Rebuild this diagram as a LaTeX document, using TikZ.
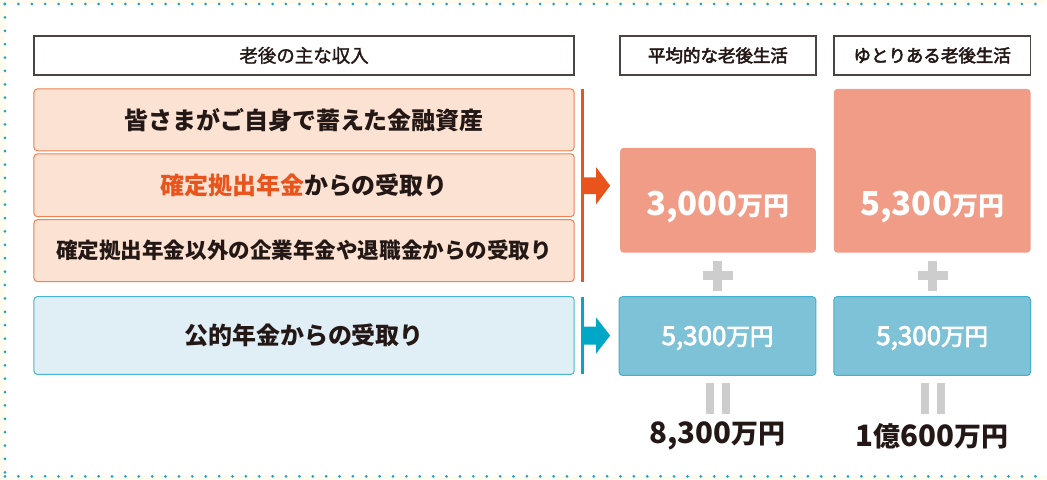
\documentclass[tikz,border=0pt]{standalone}
\usepackage{fontspec}
\usetikzlibrary{calc}
\setmainfont{Noto Sans CJK JP}
\newcommand\heavier[2]{\special{pdf:literal direct #1 w 2 Tr}#2\special{pdf:literal direct 0 Tr}}
\definecolor{cream}{HTML}{FFFBEE}
\definecolor{teal}{HTML}{1AA3C6}
\definecolor{txt}{HTML}{231815}
\definecolor{headdraw}{HTML}{4A4443}
\definecolor{ofill}{HTML}{FCE2D2}
\definecolor{odraw}{HTML}{EF8152}
\definecolor{oline}{HTML}{E8541C}
\definecolor{salmon}{HTML}{F19C86}
\definecolor{bbox}{HTML}{7DC2D7}
\definecolor{bboxdraw}{HTML}{3FB0CE}
\definecolor{lbfill}{HTML}{E0EEF5}
\definecolor{lbdraw}{HTML}{48B6D2}
\definecolor{bline}{HTML}{00A7C7}
\definecolor{plusgray}{HTML}{CDCDCD}
\tikzset{
  hdr/.style={draw=headdraw, line width=1.4pt, fill=white, minimum height=39pt, inner sep=0pt, text=txt},
  obox/.style={draw=odraw, line width=1pt, fill=ofill, rounded corners=3.5pt, minimum width=541pt, inner sep=0pt, text=txt, font=\bfseries\fontsize{24}{24}\selectfont},
  lbbox/.style={draw=lbdraw, line width=1pt, fill=lbfill, rounded corners=3.5pt, minimum width=541pt, inner sep=0pt, text=txt, font=\bfseries\fontsize{24}{24}\selectfont},
  sbox/.style={fill=salmon, rounded corners=3.5pt, inner sep=0pt},
  bluebox/.style={draw=bboxdraw, line width=1pt, fill=bbox, rounded corners=3.5pt, inner sep=0pt, minimum height=79pt},
  lbl/.style={inner sep=0pt, text=white},
  bar/.style={fill=plusgray, inner sep=0pt, draw=none},
  total/.style={inner sep=0pt, text=txt, font=\bfseries},
  dotline/.style={teal, line width=3pt, line cap=round, dash pattern=on 0pt off 13.4pt}
}
\begin{document}
\begin{tikzpicture}[x=1pt,y=-1pt]
% background
\fill[cream] (0,0) rectangle (1047,480);
\fill[white] (5,4) rectangle (1047,477);
\draw[dotline] (5,4) -- (1047,4);
\draw[dotline] (5,4) -- (5,477);
\draw[dotline] (5,477) -- (1047,477);
\useasboundingbox (0,0) rectangle (1047,480);

% headers
\node[hdr, minimum width=541pt, font=\fontsize{18.5}{18.5}\selectfont] (h1) at (304.5,55.5) {\heavier{0.25}{老後の主な収入}};
\node[hdr, minimum width=196pt, font=\fontsize{17.5}{17.5}\selectfont] (h2) at (719,55.5) {\heavier{0.5}{平均的な老後生活}};
\node[hdr, minimum width=197pt, font=\fontsize{17.5}{17.5}\selectfont] (h3) at (933.5,55.5) {\heavier{0.5}{ゆとりある老後生活}};

% left boxes
\node[obox, minimum height=62pt] (b1) at (304.5,120) {皆さまがご自身で蓄えた金融資産};
\node[obox, minimum height=63pt] (b2) at (304.5,185.5) {\textcolor{oline}{確定拠出年金}からの受取り};
\node[obox, minimum height=62pt, font=\bfseries\fontsize{21.6}{21.6}\selectfont] (b3) at (304.5,251) {確定拠出年金以外の企業年金や退職金からの受取り};
\node[lbbox, minimum height=78pt] (b4) at (304.5,336) {公的年金からの受取り};

% brackets
\coordinate (ot) at (583,89);
\coordinate (ob) at (583,282);
\coordinate (bt) at (583,297);
\coordinate (bb) at (583,375);
\draw[oline, line width=2.8pt] (ot) -- (ob);
\draw[bline, line width=2.8pt] (bt) -- (bb);
% arrows
\coordinate (oa) at (583,186);
\coordinate (ba) at (583,336);
\fill[oline] ($(oa)+(0,-8.5)$) -- ++(14,0) -- ++(0,-10) -- ($(oa)+(28,0)$) -- ($(oa)+(14,18.5)$) -- ++(0,-10) -- ($(oa)+(0,8.5)$) -- cycle;
\fill[bline] ($(ba)+(0,-9)$) -- ++(14,0) -- ++(0,-9) -- ($(ba)+(28,0)$) -- ($(ba)+(14,18)$) -- ++(0,-9) -- ($(ba)+(0,9)$) -- cycle;

% salmon boxes
\node[sbox, minimum width=196pt, minimum height=105pt] (s1) at (719,200.5) {};
\node[sbox, minimum width=197pt, minimum height=164pt] (s2) at (933.5,171) {};
\node[lbl, font=\bfseries] (s1t) at (719,207) {\fontsize{33}{33}\selectfont 3,000\fontsize{26}{26}\selectfont 万円};
\node[lbl, font=\bfseries] (s2t) at (933.5,207) {\fontsize{33}{33}\selectfont 5,300\fontsize{26}{26}\selectfont 万円};

% plus signs
\foreach \n/\cx in {p1/719, p2/934}{
  \node[bar, minimum width=30pt, minimum height=9pt] (\n h) at (\cx,276) {};
  \node[bar, minimum width=9pt, minimum height=30pt] (\n v) at (\cx,276) {};
}

% blue boxes
\node[bluebox, minimum width=197pt] (c1) at (718.5,336.5) {};
\node[bluebox, minimum width=197pt] (c2) at (933.5,336.5) {};
\node[lbl] (c1t) at (718.5,338.5) {\heavier{0.8}{\fontsize{26}{26}\selectfont 5,300\fontsize{23.5}{23.5}\selectfont 万円}};
\node[lbl] (c2t) at (933.5,338.5) {\heavier{0.8}{\fontsize{26}{26}\selectfont 5,300\fontsize{23.5}{23.5}\selectfont 万円}};

% equals
\foreach \n/\cx in {e1/711, e2/727, e3/926, e4/942}{
  \node[bar, minimum width=8pt, minimum height=31pt] (\n) at (\cx,399.5) {};
}

% totals
\node[total] (t1) at (718.5,437) {\fontsize{29.5}{29.5}\selectfont 8,300\fontsize{27}{27}\selectfont 万円};
\node[total] (t2) at (933,437) {\fontsize{29.5}{29.5}\selectfont 1\fontsize{27}{27}\selectfont 億\fontsize{29.5}{29.5}\selectfont 600\fontsize{27}{27}\selectfont 万円};
\end{tikzpicture}
\end{document}
